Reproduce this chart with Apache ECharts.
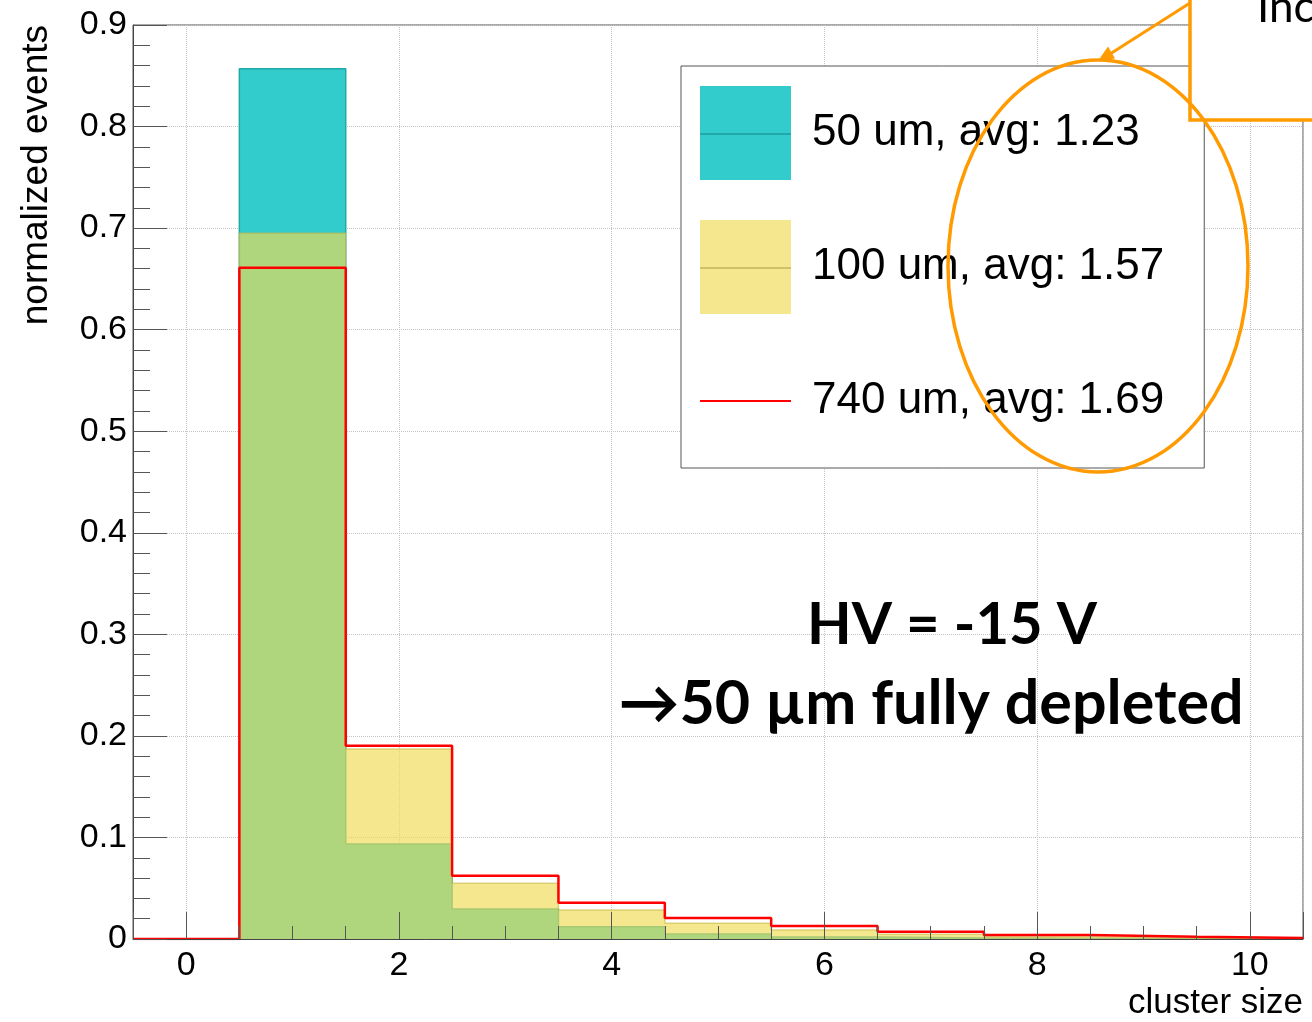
<!DOCTYPE html>
<html>
<head>
<meta charset="utf-8">
<script src="https://cdn.jsdelivr.net/npm/echarts@6/dist/echarts.min.js"></script>
<style>
html, body { margin: 0; padding: 0; background: #fff; }
#main { width: 1312px; height: 1022px; }
</style>
</head>
<body>
<div id="main"></div>
<script>
var chart = echarts.init(document.getElementById('main'));

// bins of cluster size (bin 0 is empty), normalized to 1
var clusterSize = [0, 1, 2, 3, 4, 5, 6, 7, 8, 9, 10];
var um50  = [0, 0.857, 0.0935, 0.0295, 0.0121, 0.0049, 0.0020, 0.0010, 0.0005, 0.0003, 0.0001];
var um100 = [0, 0.695, 0.187, 0.0548, 0.0286, 0.0155, 0.0089, 0.0046, 0.0023, 0.0010, 0.0005];
var um740 = [0, 0.661, 0.1904, 0.0624, 0.0358, 0.0207, 0.0128, 0.0072, 0.0039, 0.0023, 0.0010];
var names = ['50 um, avg: 1.23', '100 um, avg: 1.57', '740 um, avg: 1.69'];

var teal = '#33CCCC';
var yellow = 'rgba(240,219,84,0.66)';
var red = '#ff0000';
var orange = '#FF9A00';
var axisFont = 'Liberation Sans';

// low edge of each bin + high edge of the last one, drawn with step:'end'
function histPoints(vals) {
    var pts = [];
    for (var i = 0; i < clusterSize.length; i++) {
        pts.push([clusterSize[i] - 0.5, vals[i]]);
    }
    var last = clusterSize.length - 1;
    pts.push([clusterSize[last] + 0.5, vals[last]]);
    return pts;
}

var tickColor = '#555';

option = {
    backgroundColor: '#fff',
    animation: false,
    grid: {
        left: 133, right: 9, top: 25, bottom: 83,
        show: true, borderColor: '#555', borderWidth: 1, backgroundColor: 'transparent'
    },
    legend: {
        orient: 'vertical',
        left: 681, top: 66,
        padding: [20, 40, 20, 19],
        itemWidth: 91, itemHeight: 94, itemGap: 40,
        backgroundColor: '#fff', borderColor: '#555', borderWidth: 1,
        selectedMode: false,
        textStyle: { fontSize: 44, lineHeight: 86, fontFamily: axisFont, color: '#000', padding: [0, 0, 8, 16] },
        data: [
            { name: names[0], icon: 'rect', itemStyle: { color: teal, borderWidth: 0 } },
            { name: names[1], icon: 'rect', itemStyle: { color: yellow, borderWidth: 0 } },
            { name: names[2], icon: 'path://M0,0H91V2H0Z', itemStyle: { color: red, borderWidth: 0 } }
        ]
    },
    xAxis: [{
        type: 'value', min: -0.5, max: 10.5, splitNumber: 5, minInterval: 2, maxInterval: 2,
        z: 5,
        name: 'cluster size', nameLocation: 'end', nameGap: 0, nameMoveOverlap: false,
        nameTextStyle: { fontSize: 35, fontFamily: axisFont, color: '#000', align: 'right', verticalAlign: 'top', padding: [47, 0, 0, 0] },
        axisLine: { show: true, onZero: false, lineStyle: { color: '#444', width: 1 } },
        axisTick: { show: true, inside: true, length: 27, lineStyle: { color: tickColor } },
        minorTick: { show: true, splitNumber: 4, length: 13, lineStyle: { color: tickColor } },
        axisLabel: { fontSize: 34, fontFamily: axisFont, color: '#000', margin: 10, showMinLabel: false, showMaxLabel: false },
        splitLine: { show: false }
    }, {
        type: 'value', min: -0.5, max: 10.5, splitNumber: 5, minInterval: 2, maxInterval: 2,
        z: 0,
        axisLine: { show: false }, axisTick: { show: false }, axisLabel: { show: false },
        splitLine: { show: true, lineStyle: { color: '#c4c4c4', type: 'dotted' } }
    }],
    yAxis: [{
        type: 'value', min: 0, max: 0.9, interval: 0.1,
        z: 5,
        name: 'normalized events', nameLocation: 'end', nameGap: 0, nameRotate: 90, nameMoveOverlap: false,
        nameTextStyle: { fontSize: 37, fontFamily: axisFont, color: '#000', align: 'right', verticalAlign: 'bottom', padding: [0, 0, 78, 0] },
        axisLine: { show: true, onZero: false, lineStyle: { color: '#444', width: 1 } },
        axisTick: { show: true, inside: true, length: 34, lineStyle: { color: tickColor } },
        minorTick: { show: true, splitNumber: 5, length: 17, lineStyle: { color: tickColor } },
        axisLabel: { fontSize: 34, fontFamily: axisFont, color: '#000', margin: 6 },
        splitLine: { show: false }
    }, {
        type: 'value', min: 0, max: 0.9, interval: 0.1,
        z: 0,
        axisLine: { show: false }, axisTick: { show: false }, axisLabel: { show: false },
        splitLine: { show: true, lineStyle: { color: '#c4c4c4', type: 'dotted' } }
    }],
    series: [{
        name: names[0], type: 'line', step: 'end', symbol: 'none', z: 2,
        data: histPoints(um50),
        lineStyle: { color: '#1FA8A8', width: 1.5 },
        itemStyle: { color: teal },
        areaStyle: { color: teal, opacity: 1 }
    }, {
        name: names[1], type: 'line', step: 'end', symbol: 'none', z: 3,
        data: histPoints(um100),
        lineStyle: { color: 'rgba(200,185,70,0.6)', width: 1.5 },
        itemStyle: { color: yellow },
        areaStyle: { color: yellow, opacity: 1 }
    }, {
        name: names[2], type: 'line', step: 'end', symbol: 'none', z: 4,
        data: histPoints(um740),
        lineStyle: { color: red, width: 2.5 },
        itemStyle: { color: red }
    }],
    graphic: [
        // middle line of the legend swatches
        { type: 'line', z: 10, shape: { x1: 700, y1: 134, x2: 791, y2: 134 }, style: { stroke: '#1C9C9C', lineWidth: 1.5 } },
        { type: 'line', z: 10, shape: { x1: 700, y1: 268, x2: 791, y2: 268 }, style: { stroke: 'rgba(180,170,80,0.8)', lineWidth: 1.5 } },
        // callout box cut by the page edge
        { type: 'rect', z: 20, shape: { x: 1190, y: -10, width: 200, height: 130 }, style: { fill: '#fff', stroke: orange, lineWidth: 3.5 } },
        { type: 'text', z: 21, x: 1257, y: 8, style: { text: 'Increase', font: '44px Lato', fill: '#000', align: 'left', verticalAlign: 'middle' } },
        { type: 'ellipse', z: 22, shape: { cx: 1098, cy: 266, rx: 150, ry: 206 }, style: { fill: 'none', stroke: orange, lineWidth: 3.5 } },
        { type: 'line', z: 23, shape: { x1: 1190, y1: 3, x2: 1110, y2: 54 }, style: { stroke: orange, lineWidth: 3 } },
        { type: 'polygon', z: 23, shape: { points: [[1098, 61], [1115, 58.4], [1108, 46.6]] }, style: { fill: orange } },
        // note
        { type: 'text', z: 25, x: 952, y: 625, style: { text: 'HV = -15 V', font: 'bold 58px Lato', fill: '#000', align: 'center', verticalAlign: 'middle' } },
        { type: 'text', z: 25, x: 931, y: 704, style: { text: '\u219250 \u00b5m fully depleted', font: 'bold 61px Lato', fill: '#000', align: 'center', verticalAlign: 'middle' } }
    ]
};

chart.setOption(option);
</script>
</body>
</html>
